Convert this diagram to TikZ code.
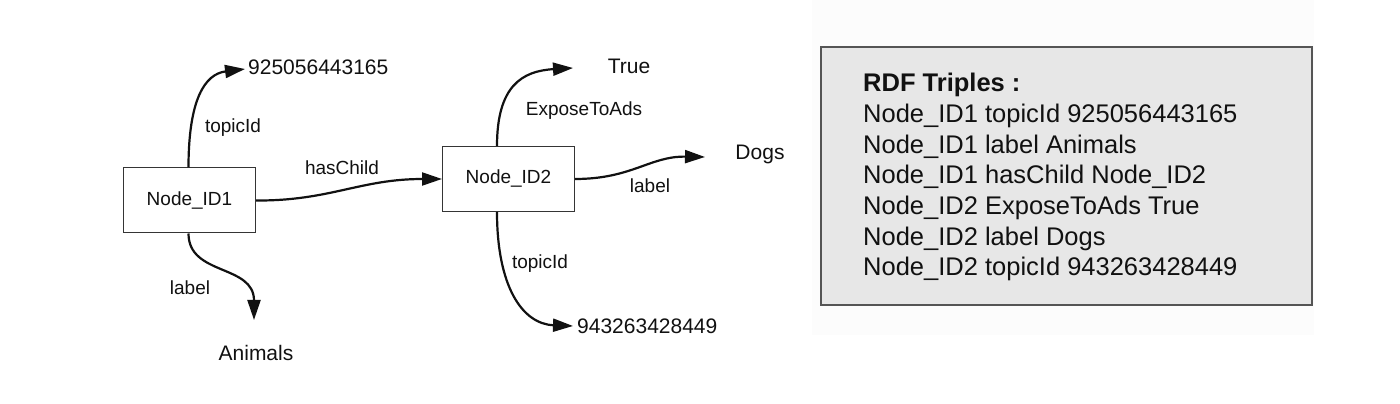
\documentclass[tikz,border=0pt]{standalone}
\usepackage{fontspec}
\setmainfont{Liberation Sans}
\usetikzlibrary{arrows.meta}
\definecolor{panelfill}{HTML}{E7E7E7}
\definecolor{panelline}{HTML}{555555}
\definecolor{bgdots}{HTML}{FCFCFC}
\definecolor{ink}{HTML}{111111}
\tikzset{
  entity/.style={draw=ink!85, line width=1pt, fill=white, inner sep=0pt,
    minimum width=132pt, minimum height=65pt, font=\fontsize{19}{22}\selectfont, text=ink},
  value/.style={inner sep=0pt, font=\fontsize{21}{24}\selectfont, text=ink},
  elabel/.style={inner sep=0pt, font=\fontsize{19}{22}\selectfont, text=ink},
  rel/.style={line width=2.2pt, draw=ink, -{Triangle[length=20pt,width=13pt]}},
  triple/.style={inner sep=0pt, anchor=base west, font=\fontsize{25.5}{30}\selectfont, text=ink}
}
\begin{document}
\begin{tikzpicture}[x=1pt,y=1pt]
\useasboundingbox (0,0) rectangle (1400,404);
\fill[white] (0,0) rectangle (1400,404);
\fill[bgdots] (812,69) rectangle (1314,404);

% nodes
\node[entity] (n1) at (189.5,203.5) {Node\_ID1};
\node[entity] (n2) at (508.5,225) {Node\_ID2};

\node[value, anchor=west] (v1) at (248,337) {925056443165};
\node[value] (v2) at (256,51) {Animals};
\node[value] (v3) at (629,338) {True};
\node[value] (v4) at (760,250) {Dogs};
\node[value, anchor=west] (v5) at (577,78) {943263428449};

\coordinate (t1) at (245,335);
\coordinate (t2) at (254,84);
\coordinate (t3) at (573,336);
\coordinate (t4) at (705,247);
\coordinate (t5) at (573,78);

% connectors
\draw[rel] ([xshift=-1pt]n1.north) .. controls (188.5,305) and (205,330) .. (t1);
\draw[rel] (n1.east) .. controls (330,203) and (360,225) .. (n2.west);
\draw[rel] ([xshift=-1pt]n1.south) .. controls (188.5,128) and (254,140) .. (t2);
\draw[rel] ([xshift=-11.5pt]n2.north) .. controls (497,318) and (522,333) .. (t3);
\draw[rel] (n2.east) .. controls (632,225) and (650,248) .. (t4);
\draw[rel] ([xshift=-11.5pt]n2.south) .. controls (497,118) and (522,80) .. (t5);

% edge labels
\node[elabel] (l1) at (233,276) {topicId};
\node[elabel] (l2) at (342,236) {hasChild};
\node[elabel] (l3) at (190,116) {label};
\node[elabel] (l4) at (584,293) {ExposeToAds};
\node[elabel] (l5) at (650,218) {label};
\node[elabel] (l6) at (540,140) {topicId};

% RDF panel
\draw[fill=panelfill, draw=panelline, line width=2pt] (821,99) rectangle (1312,357.3);
\node[triple, font=\fontsize{25.5}{30}\selectfont\bfseries] (r0) at (863,312.3) {RDF Triples :};
\node[triple] (r1) at (863,281.5) {Node\_ID1 topicId 925056443165};
\node[triple] (r2) at (863,250.8) {Node\_ID1 label Animals};
\node[triple] (r3) at (863,220.1) {Node\_ID1 hasChild Node\_ID2};
\node[triple] (r4) at (863,189.4) {Node\_ID2 ExposeToAds True};
\node[triple] (r5) at (863,158.7) {Node\_ID2 label Dogs};
\node[triple] (r6) at (863,128) {Node\_ID2 topicId 943263428449};
\end{tikzpicture}
\end{document}
